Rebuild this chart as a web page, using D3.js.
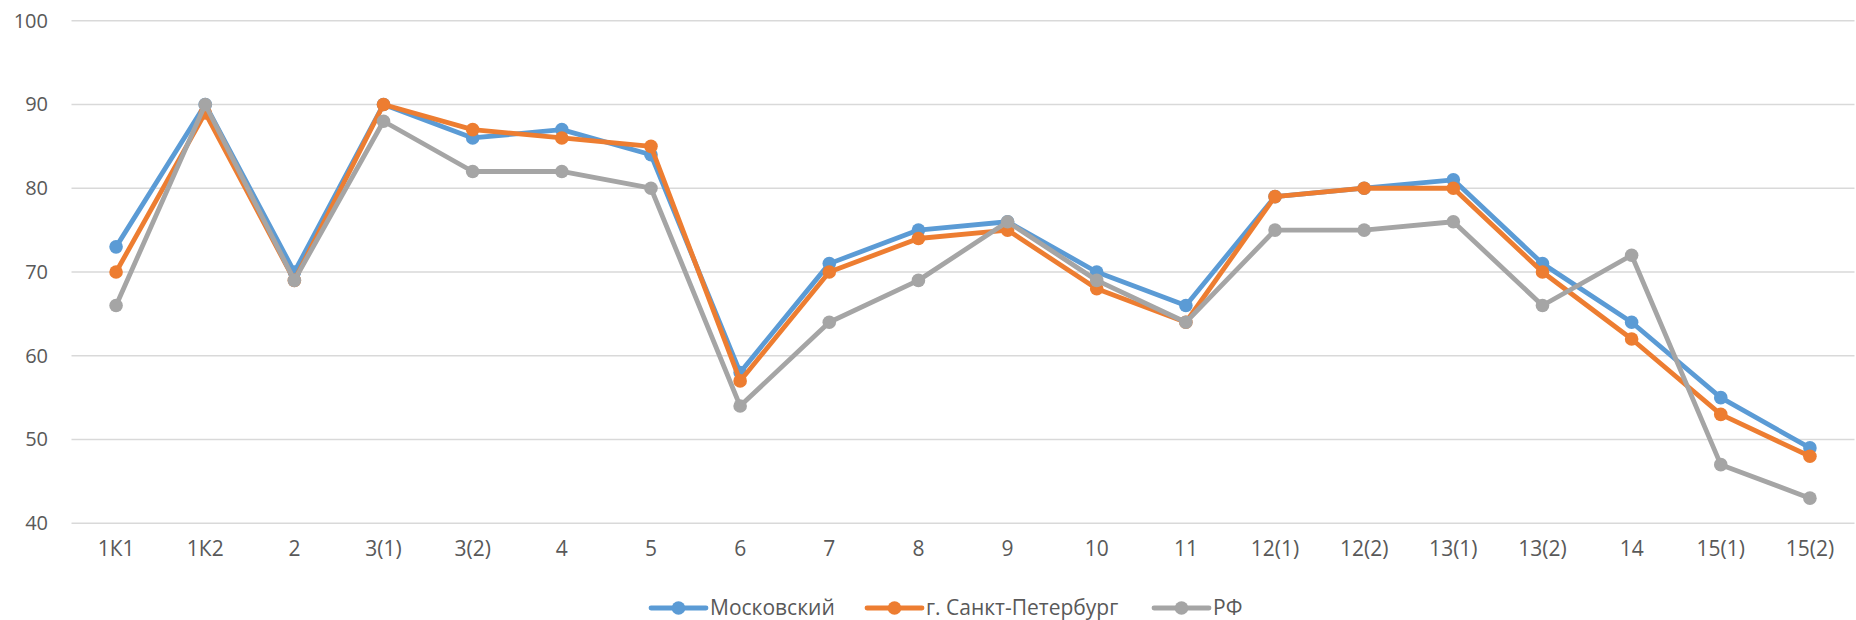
<!DOCTYPE html>
<html>
<head>
<meta charset="utf-8">
<script src="https://cdn.jsdelivr.net/npm/d3@7"></script>
<style>
  html, body { margin: 0; padding: 0; background: #fff; }
  svg { display: block; font-family: "Open Sans", "Noto Sans", sans-serif; }
</style>
</head>
<body>
<div id="chart"></div>
<script>
const categories = ["1К1", "1К2", "2", "3(1)", "3(2)", "4", "5", "6", "7", "8", "9", "10", "11", "12(1)", "12(2)", "13(1)", "13(2)", "14", "15(1)", "15(2)"];
const moscow = [73, 90, 70, 90, 86, 87, 84, 58, 71, 75, 76, 70, 66, 79, 80, 81, 71, 64, 55, 49];
const spb    = [70, 89, 69, 90, 87, 86, 85, 57, 70, 74, 75, 68, 64, 79, 80, 80, 70, 62, 53, 48];
const rf     = [66, 90, 69, 88, 82, 82, 80, 54, 64, 69, 76, 69, 64, 75, 75, 76, 66, 72, 47, 43];
const seriesNames = ["Московский", "г. Санкт-Петербург", "РФ"];
const yTicks = [40, 50, 60, 70, 80, 90, 100];

const width = 1856;
const height = 620;
const colors = ["#5B9BD5", "#ED7D31", "#A5A5A5"];
const textColor = "#595959";

const series = [moscow, spb, rf].map((values, i) => ({ name: seriesNames[i], values, color: colors[i] }));

const svg = d3.select("#chart").append("svg")
  .attr("width", width)
  .attr("height", height);

const x = d3.scaleBand().domain(categories).range([71.5, 1854.5]);
const y = d3.scaleLinear().domain([40, 100]).range([523.3, 20.7]);

// gridlines
svg.append("g")
  .selectAll("line")
  .data(yTicks)
  .join("line")
  .attr("x1", x.range()[0])
  .attr("x2", x.range()[1])
  .attr("y1", d => y(d))
  .attr("y2", d => y(d))
  .attr("stroke", "#D9D9D9")
  .attr("stroke-width", 1.5);

// y axis labels
const yAxis = svg.append("g")
  .attr("transform", "translate(48,0)")
  .call(d3.axisLeft(y).tickValues(yTicks).tickSize(0).tickPadding(0));
yAxis.select(".domain").remove();
yAxis.selectAll("text")
  .attr("fill", textColor)
  .style("font-size", "20px")
  .style("font-family", "\"Open Sans\", sans-serif");

// x axis labels
const xAxis = svg.append("g")
  .attr("transform", "translate(0,541)")
  .call(d3.axisBottom(x).tickSize(0).tickPadding(0));
xAxis.select(".domain").remove();
xAxis.selectAll("text")
  .attr("fill", textColor)
  .style("font-size", "21px")
  .style("font-family", "\"Open Sans\", sans-serif");

const line = d3.line()
  .x((d, i) => x(categories[i]) + x.bandwidth() / 2)
  .y(d => y(d));

const g = svg.append("g");

series.forEach(s => {
  g.append("path")
    .datum(s.values)
    .attr("fill", "none")
    .attr("stroke", s.color)
    .attr("stroke-width", 4.8)
    .attr("stroke-linejoin", "round")
    .attr("stroke-linecap", "round")
    .attr("d", line);

  g.append("g")
    .selectAll("circle")
    .data(s.values)
    .join("circle")
    .attr("cx", (d, i) => x(categories[i]) + x.bandwidth() / 2)
    .attr("cy", d => y(d))
    .attr("r", 6.8)
    .attr("fill", s.color);
});

// legend
const legendStarts = [651, 867, 1154];
const legend = svg.append("g").attr("transform", "translate(0,608)");
series.forEach((s, i) => {
  const item = legend.append("g").attr("transform", `translate(${legendStarts[i]},0)`);
  item.append("line")
    .attr("x1", 0).attr("x2", 55)
    .attr("stroke", s.color)
    .attr("stroke-width", 4.8)
    .attr("stroke-linecap", "round");
  item.append("circle")
    .attr("cx", 27.5)
    .attr("r", 6.8)
    .attr("fill", s.color);
  item.append("text")
    .attr("x", 59)
    .attr("dy", "0.35em")
    .attr("fill", textColor)
    .style("font-size", "21px")
    .text(s.name);
});
</script>
</body>
</html>
